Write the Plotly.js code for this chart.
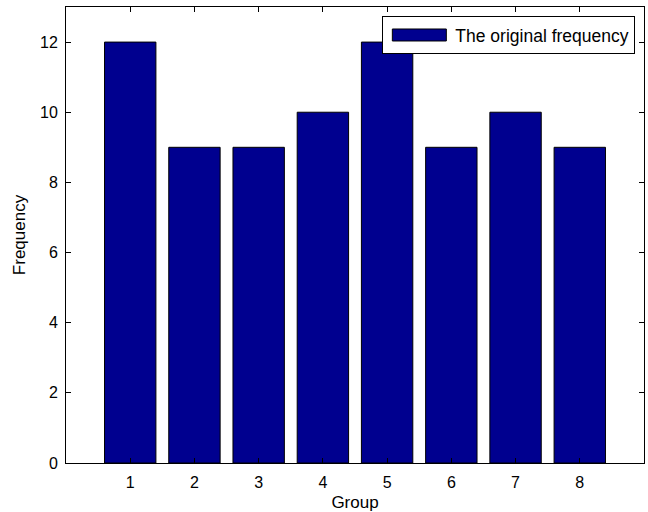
<!DOCTYPE html>
<html>
<head>
<meta charset="utf-8">
<script src="https://cdn.plot.ly/plotly-3.0.1.min.js"></script>
<style>html,body{margin:0;padding:0;background:#fff;}#chart{width:648px;height:512px;}</style>
</head>
<body>
<div id="chart"></div>
<script>
const groups = [1, 2, 3, 4, 5, 6, 7, 8];
const frequency = [12, 9, 9, 10, 12, 9, 10, 9];
const yTicks = [0, 2, 4, 6, 8, 10, 12];
const seriesName = 'The original frequency';

const trace = {
  type: 'bar',
  x: groups,
  y: frequency,
  name: seriesName,
  width: 0.8,
  marker: { color: 'rgb(0,0,143)', line: { color: '#000', width: 1 } },
  showlegend: true
};

const layout = {
  width: 648, height: 512,
  margin: { l: 65.5, r: 3.6, t: 7, b: 48.7 },
  paper_bgcolor: '#fff', plot_bgcolor: '#fff',
  font: { family: 'Liberation Sans, Arial, sans-serif', size: 16, color: '#000' },
  xaxis: {
    range: [0, 9], tickvals: groups, ticktext: groups.map(String),
    ticks: 'inside', ticklen: 5, tickcolor: '#000', mirror: 'ticks',
    showline: true, linecolor: '#000', linewidth: 1, showgrid: false, zeroline: false,
    ticklabelstandoff: 5,
    title: { text: 'Group', font: { size: 17 }, standoff: 5 },
    tickfont: { size: 16 }
  },
  yaxis: {
    range: [0, 13], tickvals: yTicks,
    ticks: 'inside', ticklen: 5, tickcolor: '#000', mirror: 'ticks',
    showline: true, linecolor: '#000', linewidth: 1, showgrid: false, zeroline: false,
    ticklabelstandoff: 4,
    title: { text: 'Frequency', font: { size: 17 }, standoff: 10 },
    tickfont: { size: 16 }
  },
  showlegend: true,
  legend: {
    x: 0.985, xanchor: 'right', y: 0.98, yanchor: 'top',
    bgcolor: '#fff', bordercolor: '#000', borderwidth: 1,
    itemwidth: 62, tracegroupgap: 0,
    font: { size: 17.5 }
  },
  bargap: 0.2
};

Plotly.newPlot('chart', [trace], layout, { staticPlot: true, displayModeBar: false }).then(function (gd) {
  // widen the legend swatch to the long rectangle used in the reference
  gd.querySelectorAll('.legend .legendpoints path').forEach(function (p) {
    p.setAttribute('d', 'M27,6H-27V-6H27Z');
  });
});
</script>
</body>
</html>
